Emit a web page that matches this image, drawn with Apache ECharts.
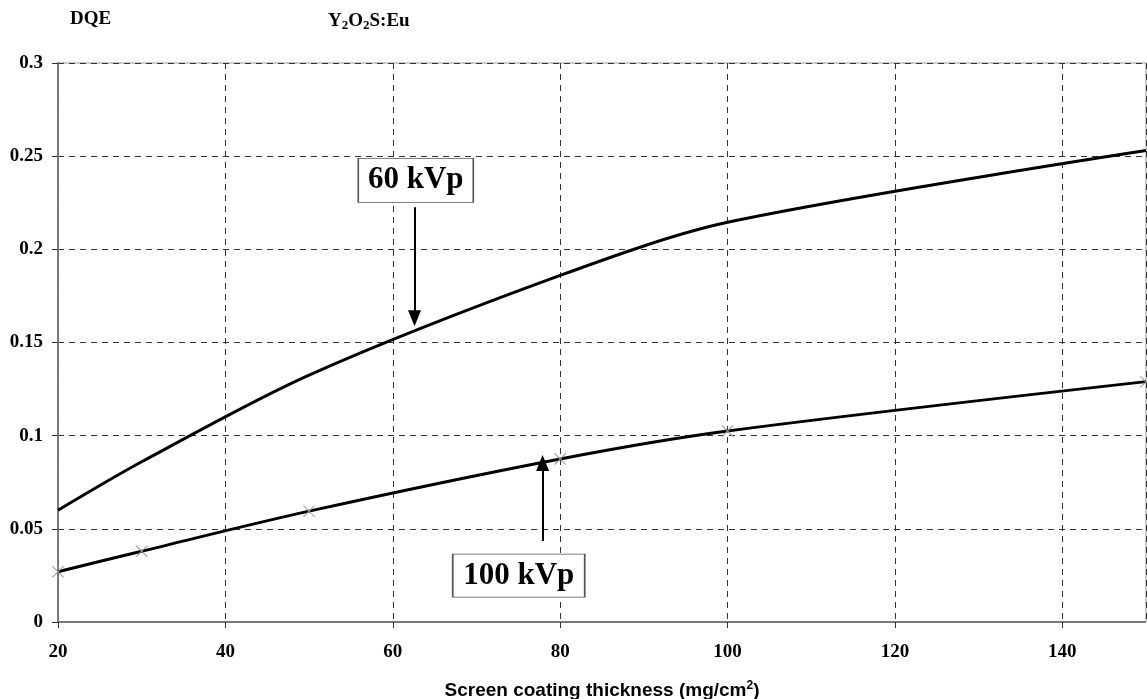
<!DOCTYPE html>
<html>
<head>
<meta charset="utf-8">
<script src="https://cdn.jsdelivr.net/npm/echarts@6/dist/echarts.min.js"></script>
<style>
  html, body { margin: 0; padding: 0; background: #fff; }
  #main { width: 1147px; height: 699px; }
</style>
</head>
<body>
<div id="main"></div>
<script>
// coating thickness (mg/cm2)
var thickness = [20, 30, 50, 80, 100, 150];
// DQE
var dqe60 = [0.060, 0.086, 0.1325, 0.186, 0.2145, 0.253];
var dqe100 = [0.027, 0.038, 0.0595, 0.0875, 0.1025, 0.129];

// annotation anchors in data units
var label60 = [62.75, 0.237];
var arrow60 = [[62.6, 0.2226], [62.6, 0.163]];
var label100 = [75.05, 0.0249];
var arrow100 = [[77.9, 0.0435], [77.9, 0.0853]];

function pairs(xs, ys) {
  var res = [];
  for (var i = 0; i < xs.length; i++) res.push([xs[i], ys[i]]);
  return res;
}

var serif = '"Liberation Serif", "Times New Roman", serif';
var sans = '"Liberation Sans", Arial, sans-serif';
var xMark = 'path://M0,0.6L0.6,0L5,4.4L9.4,0L10,0.6L5.6,5L10,9.4L9.4,10L5,5.6L0.6,10L0,9.4L4.4,5Z';

function boxLabel(pos, text, w, h) {
  return {
    coord: pos,
    symbol: 'rect',
    symbolSize: [w, h],
    itemStyle: { color: '#fff', borderColor: '#555', borderWidth: 1 },
    label: {
      show: true,
      position: 'inside',
      formatter: text,
      fontFamily: serif,
      fontWeight: 'bold',
      fontSize: 31,
      color: '#000'
    }
  };
}

function arrowLine(seg) {
  return [{ coord: seg[0] }, { coord: seg[1] }];
}

var myChart = echarts.init(document.getElementById('main'));

var option = {
  backgroundColor: '#fff',
  animation: false,
  title: [{
    text: 'DQE',
    left: 70,
    top: 10,
    padding: 0,
    textStyle: { fontFamily: serif, fontWeight: 'bold', fontSize: 19, color: '#000' }
  }, {
    text: '{n|Y}{s|2}{n|O}{s|2}{n|S:Eu}',
    left: 328,
    top: 10,
    padding: 0,
    textStyle: {
      rich: {
        n: { fontFamily: serif, fontWeight: 'bold', fontSize: 19, color: '#000' },
        s: { fontFamily: serif, fontWeight: 'bold', fontSize: 13, color: '#000', verticalAlign: 'bottom', padding: [9, 0, 0, 0] }
      }
    }
  }],
  grid: {
    left: 58,
    right: 1,
    top: 63,
    bottom: 77,
    containLabel: false,
    outerBoundsMode: 'none',
    show: true,
    borderColor: '#999',
    borderWidth: 1,
    backgroundColor: 'transparent'
  },
  xAxis: {
    type: 'value',
    min: 20,
    max: 150,
    interval: 20,
    name: 'Screen coating thickness (mg/cm{sup|2})',
    nameLocation: 'middle',
    nameGap: 58,
    nameTextStyle: {
      fontFamily: sans, fontWeight: 'bold', fontSize: 19, color: '#000',
      rich: {
        sup: { fontFamily: sans, fontWeight: 'bold', fontSize: 12, color: '#000', verticalAlign: 'top', padding: [0, 0, 9, 0] }
      }
    },
    axisLine: { show: true, lineStyle: { color: '#777', width: 2, type: [1, 1] } },
    axisTick: { show: true, inside: false, length: 6, lineStyle: { color: '#333' } },
    axisLabel: {
      margin: 21,
      showMaxLabel: false,
      fontFamily: serif, fontWeight: 'bold', fontSize: 19, color: '#000'
    },
    splitLine: { show: true, lineStyle: { color: '#333', width: 1, type: [6, 5] } }
  },
  yAxis: {
    type: 'value',
    min: 0,
    max: 0.3,
    interval: 0.05,
    axisLine: { show: true, lineStyle: { color: '#777', width: 2, type: [1, 1] } },
    axisTick: { show: true, inside: false, length: 6, lineStyle: { color: '#333' } },
    axisLabel: {
      margin: 15,
      fontFamily: serif, fontWeight: 'bold', fontSize: 19, color: '#000'
    },
    splitLine: { show: true, lineStyle: { color: '#333', width: 1, type: [6, 5] } }
  },
  series: [{
    name: '60 kVp',
    type: 'line',
    data: pairs(thickness, dqe60),
    smooth: 0.3,
    showSymbol: false,
    lineStyle: { color: '#000', width: 3 },
    z: 3,
    markLine: {
      silent: true,
      symbol: ['none', 'triangle'],
      symbolSize: [13, 16],
      label: { show: false },
      lineStyle: { color: '#000', width: 2, type: 'solid' },
      data: [arrowLine(arrow60)]
    },
    markPoint: {
      silent: true,
      data: [boxLabel(label60, '60 kVp', 115, 44)]
    }
  }, {
    name: '100 kVp',
    type: 'line',
    data: pairs(thickness, dqe100),
    smooth: 0.3,
    symbol: xMark,
    symbolSize: 12,
    showSymbol: true,
    itemStyle: { color: '#999' },
    lineStyle: { color: '#000', width: 3 },
    z: 3,
    markLine: {
      silent: true,
      symbol: ['none', 'triangle'],
      symbolSize: [13, 16],
      label: { show: false },
      lineStyle: { color: '#000', width: 2, type: 'solid' },
      data: [arrowLine(arrow100)]
    },
    markPoint: {
      silent: true,
      data: [boxLabel(label100, '100 kVp', 132, 43)]
    }
  }]
};

myChart.setOption(option);
</script>
</body>
</html>
